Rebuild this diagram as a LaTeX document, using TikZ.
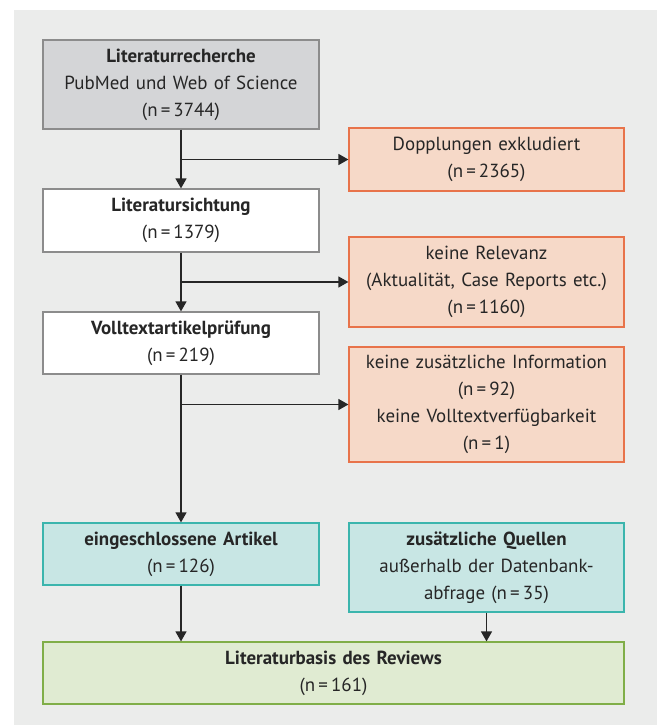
\documentclass[tikz,border=0pt]{standalone}
\usepackage{fontspec}
\setmainfont{PT Sans}
\usetikzlibrary{arrows.meta}
\definecolor{bgcol}{HTML}{EBECEB}
\definecolor{greyfill}{HTML}{D4D5D7}
\definecolor{greyline}{HTML}{8C8C8C}
\definecolor{orfill}{HTML}{F6D9C8}
\definecolor{orline}{HTML}{E8734A}
\definecolor{tealfill}{HTML}{C8E6E4}
\definecolor{tealline}{HTML}{3BB5AD}
\definecolor{grfill}{HTML}{E0EBD2}
\definecolor{grline}{HTML}{80AE48}

\begin{document}
\begin{tikzpicture}[x=1bp,y=-1bp,
    font=\fontsize{19}{27}\selectfont,
    box/.style={draw=greyline,fill=white,line width=1.2bp,align=center,
      inner sep=0pt,minimum width=276bp,text width=270bp,text=black!85},
    excl/.style={box,draw=orline,fill=orfill,minimum width=275bp},
    incl/.style={box,draw=tealline,fill=tealfill},
    final/.style={box,draw=grline,fill=grfill,minimum width=581bp,text width=560bp},
    arr/.style={line width=1.2bp,black!85,-{Triangle[length=10bp,width=11bp]}}]
  \useasboundingbox (0,0) rectangle (657,725);
  \fill[bgcol] (14,10) rectangle (657,725);

  \node[box,fill=greyfill,minimum height=89bp] (recherche) at (181,84.5)
    {\textbf{Literaturrecherche}\\PubMed und Web of Science\\(n\,=\,3744)};
  \node[box,minimum height=63bp] (sichtung) at (181,220.5)
    {\textbf{Literatursichtung}\\(n\,=\,1379)};
  \node[box,minimum height=62bp] (volltext) at (181,343)
    {\textbf{Volltextartikelprüfung}\\(n\,=\,219)};
  \node[incl,minimum height=62bp] (artikel) at (181,554)
    {\textbf{eingeschlossene Artikel}\\(n\,=\,126)};

  \node[excl,minimum height=63bp] (dopplung) at (486.5,159.5)
    {Dopplungen exkludiert\\(n\,=\,2365)};
  \node[excl,minimum height=90bp] (relevanz) at (486.5,282)
    {keine Relevanz\\(Aktualität, Case Reports etc.)\\(n\,=\,1160)};
  \node[excl,minimum height=115bp] (info) at (486.5,404.5)
    {keine zusätzliche Information\\(n\,=\,92)\\keine Volltextverfügbarkeit\\(n\,=\,1)};
  \node[incl,minimum height=89bp,minimum width=275bp] (quellen) at (486.5,567.5)
    {\textbf{zusätzliche Quellen}\\außerhalb der Datenbank-\\abfrage (n\,=\,35)};

  \node[final,minimum height=62bp] (basis) at (333.5,673)
    {\textbf{Literaturbasis des Reviews}\\(n\,=\,161)};

  \draw[arr] (recherche) -- (sichtung);
  \draw[arr] (sichtung) -- (volltext);
  \draw[arr] (volltext) -- (artikel);
  \draw[arr] (artikel) -- (artikel |- basis.north);
  \draw[arr] (quellen) -- (quellen |- basis.north);
  \draw[arr] (recherche |- dopplung.west) -- (dopplung.west);
  \draw[arr] (sichtung |- relevanz.west) -- (relevanz.west);
  \draw[arr] (volltext |- info.west) -- (info.west);
\end{tikzpicture}
\end{document}
